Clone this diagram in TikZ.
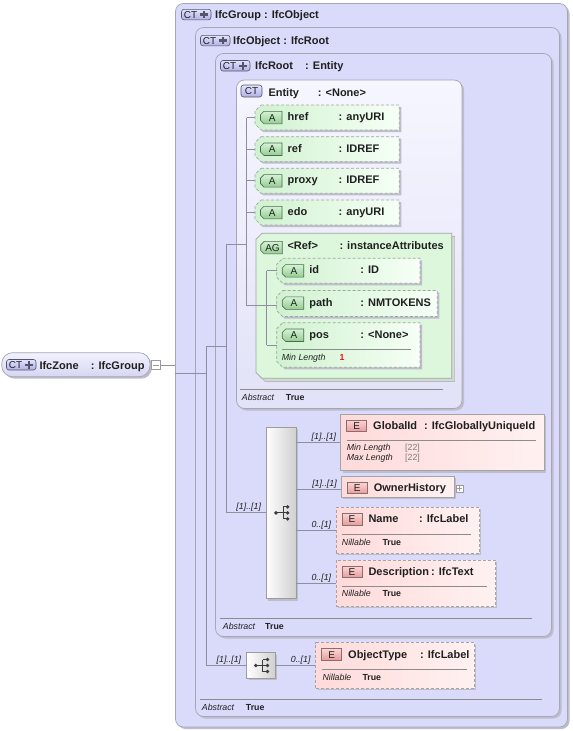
\documentclass[tikz,border=0pt]{standalone}
\usepackage{fontspec}
\setmainfont{Liberation Sans}
\usetikzlibrary{shadows,fit,calc}
\definecolor{lav}{HTML}{DADAFA}
\definecolor{entT}{HTML}{F6F6FF}
\definecolor{entB}{HTML}{E2E2F8}
\definecolor{boxln}{HTML}{A6A6B6}
\definecolor{shad}{HTML}{BDBDCC}
\definecolor{conc}{HTML}{8E8E9E}
\definecolor{attrL}{HTML}{D0F2D0}
\definecolor{attrR}{HTML}{F6FFF6}
\definecolor{agf}{HTML}{DCF7DC}
\definecolor{agsh}{HTML}{CFDCCF}
\definecolor{elL}{HTML}{FFDADA}
\definecolor{elR}{HTML}{FFF1F1}
\definecolor{dashc}{HTML}{A4A4A4}
\definecolor{txtc}{HTML}{202020}
\definecolor{ctT}{HTML}{E2E2FF}
\definecolor{ctB}{HTML}{B0B0E4}
\definecolor{ctln}{HTML}{55556A}
\definecolor{aT}{HTML}{D4F2D4}
\definecolor{aB}{HTML}{94CC94}
\definecolor{aln}{HTML}{4C6A4C}
\definecolor{eT}{HTML}{FBD6D6}
\definecolor{eB}{HTML}{E79C9C}
\definecolor{eln}{HTML}{8C6C6C}
\definecolor{seqR}{HTML}{D0D0D0}
\definecolor{seqln}{HTML}{9C9C9C}
\definecolor{divc}{HTML}{8C8C8C}
\definecolor{valc}{HTML}{7C7C7C}
\definecolor{numred}{HTML}{E01818}
\definecolor{zoneT}{HTML}{F2F2FF}
\definecolor{zoneB}{HTML}{D6D6F2}
\definecolor{iconc}{HTML}{3C3C3C}
\newcommand\fTitle{\fontsize{11}{12}\selectfont\bfseries}
\newcommand\fSmall{\fontsize{8.8}{10}\selectfont}
\newcommand\fTag{\fontsize{10}{11}\selectfont}

\tikzset{
  shd/.style={drop shadow={shadow xshift=2pt,shadow yshift=-2pt,fill=shad,opacity=1}},
  ctbox/.style={draw=boxln, line width=0.7pt, fill=lav, rounded corners=8pt, inner sep=0pt, shd},
  entbox/.style={ctbox, top color=entT, bottom color=entB},
  zonest/.style={draw=boxln, line width=0.7pt, rounded corners=11pt, inner sep=0pt, top color=zoneT, bottom color=zoneB, shd},
  tagct/.style={draw=ctln, line width=0.6pt, rounded corners=2.5pt, inner sep=0pt, top color=ctT, bottom color=ctB},
  tagA/.style={draw=aln, line width=0.6pt, top color=aT, bottom color=aB},
  etag/.style={draw=eln, line width=0.6pt, inner sep=0pt, top color=eT, bottom color=eB},
  tagtxt/.style={font=\fTag, text=txtc, inner sep=0pt},
  plusst/.style={draw=ctln, line width=2.3pt},
  attrst/.style={draw=dashc, line width=0.7pt, dash pattern=on 3pt off 2pt, left color=attrL, right color=attrR, shd},
  agst/.style={draw=dashc, line width=0.7pt, fill=agf, drop shadow={shadow xshift=3pt,shadow yshift=-3pt,fill=agsh,draw=dashc,opacity=1}},
  elsolid/.style={draw=dashc, line width=0.7pt, inner sep=0pt, left color=elL, right color=elR, shd},
  eldash/.style={elsolid, dash pattern=on 3pt off 2pt},
  seqst/.style={draw=seqln, line width=0.7pt, inner sep=0pt, left color=white, right color=seqR, shd},
  pmbox/.style={draw=seqln, line width=0.6pt, fill=white, inner sep=0pt},
  pmline/.style={draw=seqln, line width=0.7pt},
  conn/.style={draw=conc, line width=0.75pt},
  divl/.style={draw=divc, line width=0.6pt},
  ttl/.style={font=\fTitle, text=txtc, inner sep=0pt},
  small/.style={font=\fSmall\itshape, text=txtc, inner sep=0pt},
  smallb/.style={font=\fSmall\bfseries, text=txtc, inner sep=0pt},
  valst/.style={font=\fSmall, text=valc, inner sep=0pt},
  card/.style={font=\fSmall\itshape, text=txtc, inner sep=0pt},
  iconl/.style={draw=iconc, line width=0.9pt},
}

\newcommand\ctplustag[3]{%
  \node[tagct, fit={(#2,#3)(#2+29.5,#3+10.5)}] (#1) {};
  \node[tagtxt] (#1-t) at (#2+9,#3+5.5) {CT};
  \draw[plusst] (#2+22.5,#3+1.6) -- (#2+22.5,#3+9) (#2+18.8,#3+5.3) -- (#2+26.2,#3+5.3);
}
\newcommand\atag[4]{%
  \node[fit={(#2,#3)(#2+21.5,#3+12.5)}, inner sep=0pt] (#1) {};
  \path[tagA] (#2+3.5,#3) -- (#2+21.5,#3) -- (#2+21.5,#3+12.5) -- (#2+3.5,#3+12.5) -- (#2,#3+9) -- (#2,#3+3.5) -- cycle;
  \node[tagtxt] (#1-t) at (#2+11.8,#3+6.5) {#4};
}
\newcommand\attr[7]{%
  \path[attrst] (#2+6,#3) -- (#4,#3) -- (#4,#5) -- (#2+6,#5) -- (#2,#5-6) -- (#2,#3+6) -- cycle;
  \node[fit={(#2,#3)(#4,#5)}, inner sep=0pt] (#1) {};
  \atag{#1-tag}{#2+5.5}{#3+6.3}{A}
  \node[ttl, anchor=base west] (#1-n) at (#2+32.5,#3+15.5) {#6};
  \node[ttl, anchor=base west] (#1-ty) at (#2+83.5,#3+15.5) {#7};
}
\newcommand\elem[9]{%
  \node[#9, fit={(#2,#3)(#4,#5)}] (#1) {};
  \node[etag, fit={(#2+6,#3+6)(#2+26,#3+17.5)}] (#1-tag) {};
  \node[tagtxt] (#1-tt) at (#2+16,#3+12) {E};
  \node[ttl, anchor=base west] (#1-n) at (#2+32.3,#3+15.5) {#6};
  \node[ttl, anchor=base west] (#1-ty) at (#7,#3+15.5) {#8};
}

\begin{document}
\begin{tikzpicture}[x=1pt,y=-1pt]
\fill[white] (0,0) rectangle (573,731);
\useasboundingbox (0,0) rectangle (573,731);

% ---- nested complex type boxes
\node[ctbox, fit={(175.5,3.5)(567.5,727)}] (grp) {};
\node[ctbox, fit={(195.5,27.5)(559.5,716.5)}] (obj) {};
\node[ctbox, fit={(215.5,53.5)(551.5,636.5)}] (root) {};
\node[entbox, fit={(236.5,80)(462,408.5)}] (ent) {};

\ctplustag{grptag}{181.5}{9.3}
\node[ttl, anchor=base west] (grp-n) at (215,18.5) {IfcGroup : IfcObject};
\ctplustag{objtag}{200.5}{35.3}
\node[ttl, anchor=base west] (obj-n) at (233,44.2) {IfcObject : IfcRoot};
\ctplustag{roottag}{220.5}{60.5}
\node[ttl, anchor=base west] (root-n) at (255,69.5) {IfcRoot};
\node[ttl, anchor=base west] (root-ty) at (305,69.5) {: Entity};
\node[tagct, fit={(241,85)(262,97)}] (enttag) {};
\node[tagtxt] (enttag-t) at (251.5,91.2) {CT};
\node[ttl, anchor=base west] (ent-n) at (268.3,96) {Entity};
\node[ttl, anchor=base west] (ent-ty) at (317.7,96) {: <None>};

% ---- IfcZone
\node[zonest, fit={(1.7,352.7)(150,376.7)}] (zone) {};
\ctplustag{zonetag}{6.5}{359.5}
\node[ttl, anchor=base west] (zone-n) at (39.3,369) {IfcZone};
\node[ttl, anchor=base west] (zone-ty) at (90.7,369) {: IfcGroup};
\node[pmbox, fit={(151.7,360.7)(160.7,369.7)}] (zonem) {};
\draw[pmline] ($(zonem.center)+(-2.8,0)$) -- ($(zonem.center)+(2.8,0)$);

% ---- attributes of Entity
\attr{href}{255}{105}{399.3}{130}{href}{: anyURI}
\attr{ref}{255}{136.7}{399.3}{161.7}{ref}{: IDREF}
\attr{proxy}{255}{168.3}{399.3}{193.3}{proxy}{: IDREF}
\attr{edo}{255}{200}{399.3}{225}{edo}{: anyURI}

% ---- attribute group
\path[agst] (262,233.3) -- (451.7,233.3) -- (451.7,378.3) -- (262,378.3) -- (256,372.3) -- (256,239.3) -- cycle;
\node[fit={(256,233.3)(451.7,378.3)}, inner sep=0pt] (ag) {};
\atag{agtag}{260.7}{241.4}{AG}
\node[ttl, anchor=base west] (ag-n) at (287.3,249.6) {<Ref>};
\node[ttl, anchor=base west] (ag-ty) at (339.3,249.6) {: instanceAttributes};

\attr{idA}{276.7}{258.3}{420}{283.3}{id}{: ID}
\attr{pathA}{276.7}{290.5}{437.3}{316.5}{path}{: NMTOKENS}
\attr{posA}{276.7}{322.7}{420}{367.3}{pos}{: <None>}
\draw[divl] (282,349) -- (411,349);
\node[small, anchor=base west] (pos-ml) at (281.7,360) {Min Length};
\node[font=\fSmall\bfseries, text=numred, inner sep=0pt, anchor=base west] (pos-mlv) at (339.3,360) {1};

\draw[divl] (240,389.3) -- (442.7,389.3);
\node[small, anchor=base west] (ent-ab) at (241.7,400) {Abstract};
\node[smallb, anchor=base west] (ent-abv) at (285.7,400) {True};

% ---- sequence 1 and its elements
\node[seqst, fit={(266,427)(296,598.7)}] (seq1) {};
\begin{scope}[shift={(seq1.center)}]
  \draw[iconl] (-5,0) -- (2,0) (2,-6) -- (2,6) (2,-6) -- (6.7,-6) (2,6) -- (6.7,6) (2,0) -- (6.7,0);
  \fill[iconc] (-5,0) circle (1.9) (6.7,-6) circle (1.9) (6.7,0) circle (1.9) (6.7,6) circle (1.9);
\end{scope}

\elem{gid}{340.7}{414}{544}{470.7}{GlobalId}{424}{: IfcGloballyUniqueId}{elsolid}
\draw[divl] (346.7,440.7) -- (536,440.7);
\node[small, anchor=base west] (gid-mn) at (346.7,450.5) {Min Length};
\node[valst, anchor=base west] (gid-mnv) at (405,450.5) {[22]};
\node[small, anchor=base west] (gid-mx) at (346.7,460.5) {Max Length};
\node[valst, anchor=base west] (gid-mxv) at (405,460.5) {[22]};

\elem{oh}{341.3}{476}{454.3}{497.3}{OwnerHistory}{440}{}{elsolid}
\node[pmbox, fit={(456,485)(463.5,492.5)}] (ohp) {};
\draw[pmline] ($(ohp.center)+(-2.4,0)$) -- ($(ohp.center)+(2.4,0)$) ($(ohp.center)+(0,-2.4)$) -- ($(ohp.center)+(0,2.4)$);

\elem{nm}{336}{507.3}{479.3}{553.3}{Name}{419}{: IfcLabel}{eldash}
\draw[divl] (341.7,534) -- (470.7,534);
\node[small, anchor=base west] (nm-nl) at (341.7,545) {Nillable};
\node[smallb, anchor=base west] (nm-nlv) at (382.3,545) {True};

\elem{desc}{336}{560}{495.3}{606}{Description}{431}{: IfcText}{eldash}
\draw[divl] (341.7,586) -- (486.7,586);
\node[small, anchor=base west] (desc-nl) at (341.7,596.7) {Nillable};
\node[smallb, anchor=base west] (desc-nlv) at (382.3,596.7) {True};

\draw[divl] (220,618) -- (532,618);
\node[small, anchor=base west] (root-ab) at (222.7,629.5) {Abstract};
\node[smallb, anchor=base west] (root-abv) at (265,629.5) {True};

% ---- sequence 2
\node[seqst, fit={(246.7,652.7)(275,678.3)}] (seq2) {};
\begin{scope}[shift={(seq2.center)}]
  \draw[iconl] (-5,0) -- (2,0) (2,-6) -- (2,6) (2,-6) -- (6.7,-6) (2,6) -- (6.7,6) (2,0) -- (6.7,0);
  \fill[iconc] (-5,0) circle (1.9) (6.7,-6) circle (1.9) (6.7,0) circle (1.9) (6.7,6) circle (1.9);
\end{scope}
\elem{objt}{315.7}{642.7}{474.3}{688.3}{ObjectType}{420}{: IfcLabel}{eldash}
\draw[divl] (321.7,669.3) -- (466.7,669.3);
\node[small, anchor=base west] (objt-nl) at (322.3,680) {Nillable};
\node[smallb, anchor=base west] (objt-nlv) at (362.3,680) {True};

\draw[divl] (200,699.3) -- (541.7,699.3);
\node[small, anchor=base west] (obj-ab) at (201.7,710) {Abstract};
\node[smallb, anchor=base west] (obj-abv) at (245.7,710) {True};

% ---- connectors
\coordinate (jA) at (206.7,373);
\coordinate (jB) at (206.7,346);
\coordinate (jC) at (226.7,244);
\coordinate (jD) at (246.7,244);
\coordinate (jE) at (266.7,300);

\draw[conn] (zonem.east) -- (zonem.east -| grp.west);
\draw[conn] (jA -| grp.west) -- (jA);
\draw[conn] (jB) -- (jB |- seq2.west) -- (seq2.west);
\draw[conn] (jB) -- (jB -| jC);
\draw[conn] (jC) -- (jC |- seq1.west) -- (seq1.west);
\draw[conn] (jC) -- (jD);
\draw[conn] (href.west -| jD) -- (ag.west -| jD) -- (ag.west);
\foreach \nn in {href,ref,proxy,edo} \draw[conn] (\nn.west -| jD) -- (\nn.west);
\draw[conn] (ag.west) -- (ag.west -| pathA.west);
\draw[conn] (idA.west -| jE) -- (posA.west -| jE);
\draw[conn] (idA.west -| jE) -- (idA.west);
\draw[conn] (posA.west -| jE) -- (posA.west);
\draw[conn] (seq1.east |- gid.west) -- (gid.west);
\draw[conn] ($(seq1.east |- oh.west)+(0,2.5)$) -- ($(oh.west)+(0,2.5)$);
\draw[conn] (seq1.east |- nm.west) -- (nm.west);
\draw[conn] (seq1.east |- desc.west) -- (desc.west);
\draw[conn] (seq2.east) -- (objt.west);

% ---- cardinalities
\node[card, anchor=base east] (c-seq1) at ($(seq1.west)+(-4.5,-3.5)$) {[1]..[1]};
\node[card, anchor=base east] (c-gid) at ($(gid.west)+(-4,-2.8)$) {[1]..[1]};
\node[card, anchor=base east] (c-oh) at ($(oh.west)+(-4,-0.2)$) {[1]..[1]};
\node[card, anchor=base east] (c-nm) at ($(nm.west)+(-4.3,-2.8)$) {0..[1]};
\node[card, anchor=base east] (c-desc) at ($(desc.west)+(-4.3,-2.8)$) {0..[1]};
\node[card, anchor=base east] (c-seq2) at ($(seq2.west)+(-5,-3)$) {[1]..[1]};
\node[card, anchor=base east] (c-objt) at ($(objt.west)+(-4.7,-3)$) {0..[1]};
\end{tikzpicture}
\end{document}
